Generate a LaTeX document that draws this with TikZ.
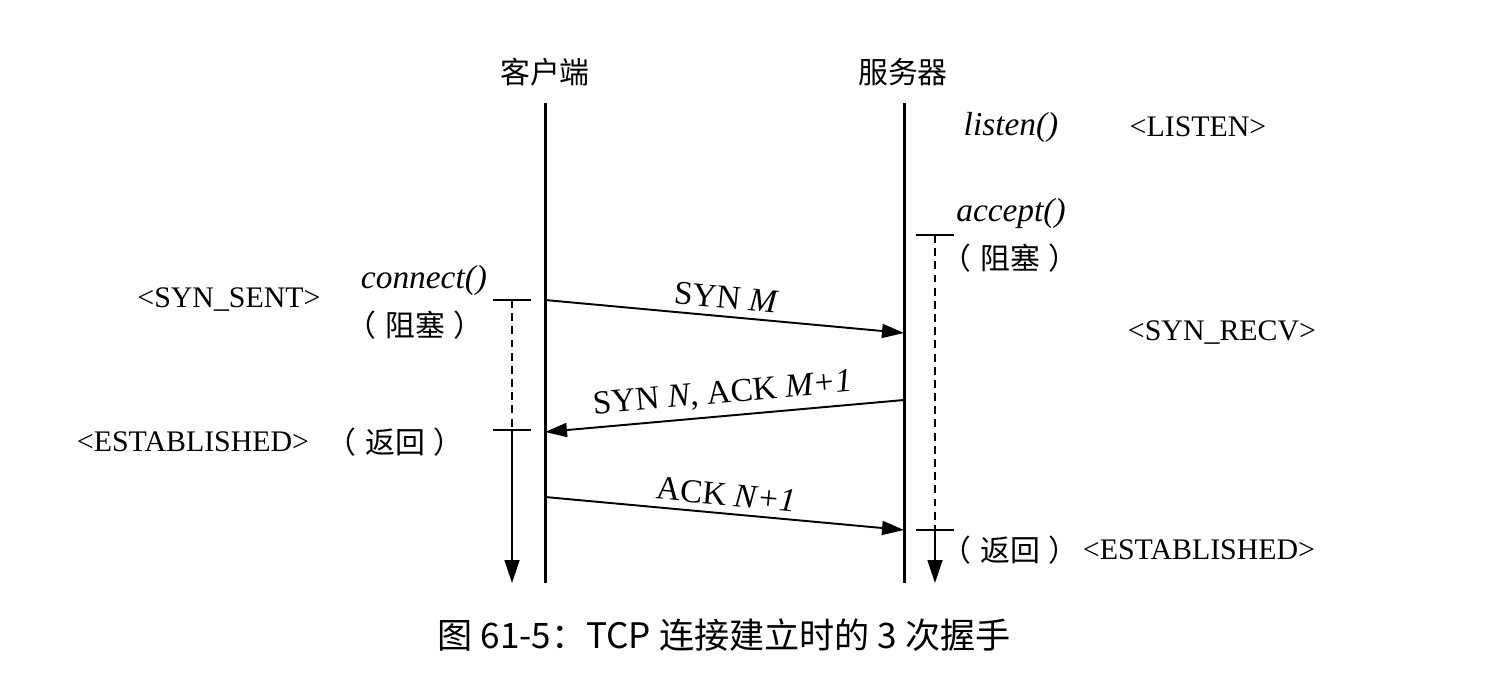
\documentclass[tikz,border=0pt]{standalone}
\usepackage{fontspec}
\setmainfont{Liberation Serif}
\newfontfamily\cjk{Noto Sans CJK SC}
\usetikzlibrary{arrows.meta}
\newcommand{\fwparen}[1]{\kern-0.3em（\kern0.3em#1\kern0.3em）\kern-0.3em}
\begin{document}
\begin{tikzpicture}[x=0.02cm,y=-0.02cm,
  life/.style={line width=1.7pt},
  msg/.style={line width=1.1pt,-{Triangle[length=0.44cm,width=0.28cm]}},
  waitline/.style={line width=1pt,dash pattern=on 4.5pt off 3pt},
  retline/.style={line width=1pt,-{Triangle[length=0.46cm,width=0.3cm]}},
  tick/.style={line width=1pt},
  state/.style={font=\fontsize{17}{20}\selectfont,inner sep=0pt},
  fn/.style={font=\fontsize{19}{22}\selectfont\itshape,inner sep=0pt},
  lbl/.style={font=\fontsize{19}{22}\selectfont,inner sep=0pt},
  cjkl/.style={font=\cjk\fontsize{17}{20}\selectfont,inner sep=0pt},
  head/.style={font=\cjk\fontsize{17}{20}\selectfont,inner sep=0pt},
  capt/.style={font=\cjk\fontsize{20}{24}\selectfont,inner sep=0pt}]
\useasboundingbox (0,0) rectangle (1487,692);

% headings
\node[head] (client) at (545,72) {客户端};
\node[head] (server) at (903,72) {服务器};

% lifelines
\coordinate (ctop) at (545,103);
\coordinate (cbot) at (545,583);
\coordinate (stop) at (904,103);
\coordinate (sbot) at (904,583);
\draw[life] (ctop) -- (cbot);
\draw[life] (stop) -- (sbot);

% server side labels
\node[fn] (listen) at (1011,127) {listen()};
\node[state] (slisten) at (1198,127) {<LISTEN>};
\node[fn] (accept) at (1011,213) {accept()};
\node[cjkl] (sblock) at (1010,258) {\fwparen{阻塞}};
\node[state] (srecv) at (1222,333) {<SYN\_RECV>};
\node[cjkl] (sret) at (1010,550) {\fwparen{返回}};
\node[state] (sest) at (1199,550) {<ESTABLISHED>};

% client side labels
\node[state] (csent) at (229,300) {<SYN\_SENT>};
\node[fn] (connect) at (424,280) {connect()};
\node[cjkl] (cblock) at (415,325) {\fwparen{阻塞}};
\node[state] (cest) at (193,442) {<ESTABLISHED>};
\node[cjkl] (cret) at (395,442) {\fwparen{返回}};

% client blocking
\coordinate (cw1) at (512,300);
\coordinate (cw2) at (512,430);
\coordinate (cw3) at (512,583);
\draw[waitline] (cw1) -- (cw2);
\draw[tick] ([xshift=-11]cw1) -- ([xshift=11]cw1);
\draw[tick] ([xshift=-11]cw2) -- ([xshift=11]cw2);
\draw[retline] (cw2) -- (cw3);

% server blocking
\coordinate (sw1) at (935,235);
\coordinate (sw2) at (935,530);
\coordinate (sw3) at (935,583);
\draw[waitline] (sw1) -- (sw2);
\draw[tick] ([xshift=-11]sw1) -- ([xshift=11]sw1);
\draw[tick] ([xshift=-11]sw2) -- ([xshift=11]sw2);
\draw[retline] (sw2) -- (sw3);

% messages
\coordinate (m1a) at (545,300);
\coordinate (m1b) at (904,333);
\coordinate (m2a) at (904,400);
\coordinate (m2b) at (545,432);
\coordinate (m3a) at (545,497);
\coordinate (m3b) at (904,530);
\draw[msg] (m1a) -- node[lbl,midway,sloped,above=4pt] (l1) {SYN \textit{M}} (m1b);
\draw[msg] (m2a) -- node[lbl,midway,sloped,above=4pt] (l2) {SYN \textit{N}, ACK \textit{M+1}} (m2b);
\draw[msg] (m3a) -- node[lbl,midway,sloped,above=4pt] (l3) {ACK \textit{N+1}} (m3b);

% caption
\node[capt] (caption) at (724,635) {图 61-5：TCP 连接建立时的 3 次握手};
\end{tikzpicture}
\end{document}
